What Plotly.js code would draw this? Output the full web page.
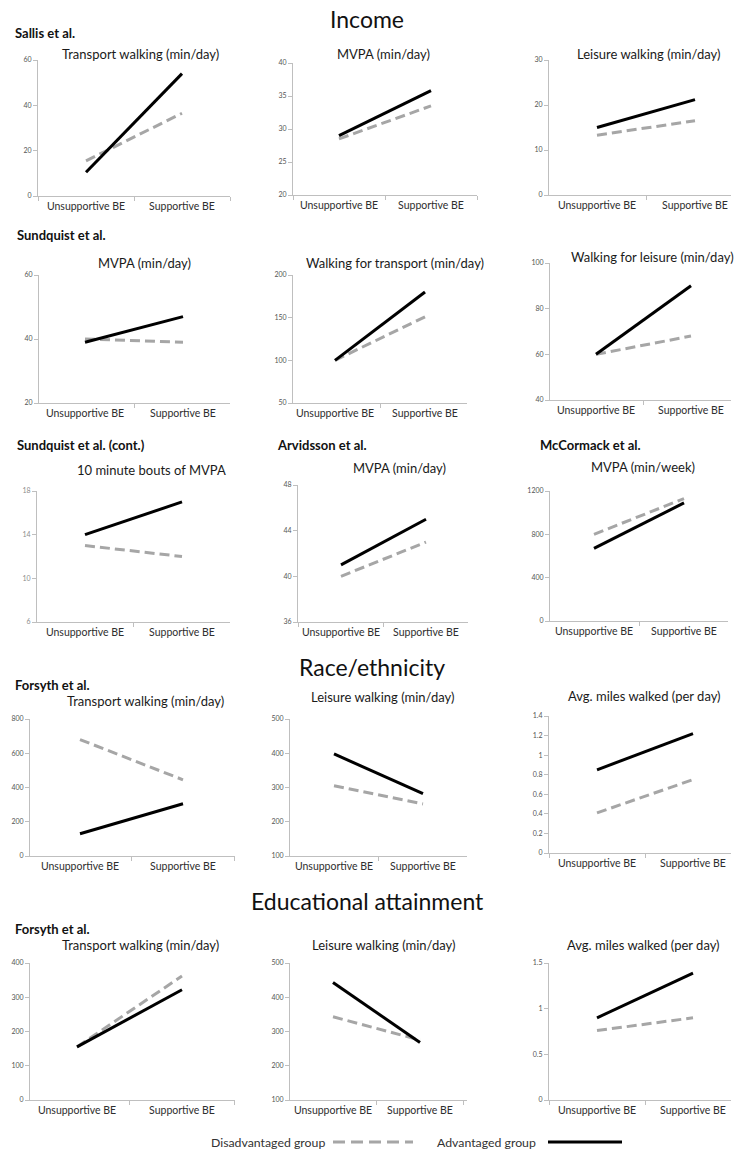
<!DOCTYPE html>
<html>
<head>
<meta charset="utf-8">
<script src="https://cdn.plot.ly/plotly-3.0.1.min.js"></script>
<style>
  html, body { margin: 0; padding: 0; background: #fff; }
  #chart { width: 734px; height: 1155px; }
</style>
</head>
<body>
<div id="chart"></div>
<script>
// ---------- DATA ----------
const categories = ["Unsupportive BE", "Supportive BE"];
const seriesNames = ["Disadvantaged group", "Advantaged group"];
const sectionTitles = ["Income", "Race/ethnicity", "Educational attainment"];
const studyLabels = ["Sallis et al.", "Sundquist et al.", "Sundquist et al. (cont.)", "Arvidsson et al.", "McCormack et al.", "Forsyth et al.", "Forsyth et al."];
const panelTitles = [
  "Transport walking (min/day)", "MVPA (min/day)", "Leisure walking (min/day)",
  "MVPA (min/day)", "Walking for transport (min/day)", "Walking for leisure (min/day)",
  "10 minute bouts of MVPA", "MVPA (min/day)", "MVPA (min/week)",
  "Transport walking (min/day)", "Leisure walking (min/day)", "Avg. miles walked (per day)",
  "Transport walking (min/day)", "Leisure walking (min/day)", "Avg. miles walked (per day)"
];
const disadvantaged = [
  [15.5, 36.5], [28.5, 33.5], [13.3, 16.5],
  [40, 39], [100, 151], [60, 68],
  [13, 12], [40, 43], [800, 1130],
  [680, 445], [305, 252], [0.41, 0.75],
  [155, 362], [343, 275], [0.76, 0.9]
];
const advantaged = [
  [10.5, 54], [29, 35.8], [15, 21.2],
  [39, 47], [100, 180], [60, 90],
  [14, 17], [41, 45], [670, 1090],
  [130, 305], [398, 282], [0.85, 1.22],
  [155, 322], [443, 268], [0.9, 1.39]
];
const yRanges = [
  [0, 60], [20, 40], [0, 30],
  [20, 60], [50, 200], [40, 100],
  [6, 18], [36, 48], [0, 1200],
  [0, 800], [100, 500], [0, 1.4],
  [0, 400], [100, 500], [0, 1.5]
];
const yDticks = [20, 5, 10, 20, 50, 20, 4, 4, 400, 200, 100, 0.2, 100, 100, 0.5];

// ---------- LAYOUT (pixel frames) ----------
const W = 734, H = 1155;
const px = x => x / W;
const py = y => 1 - y / H;
// [axisLeft, cat0, cat1, axisRight, top, bottom, titleX, titleY]
const frames = [
  [38, 86, 182, 230, 60, 196, 140, 54],
  [293, 339, 431, 477, 63, 195, 383, 54],
  [549, 597, 695, 731, 60, 195, 648, 54],
  [39, 85, 183, 230, 275, 403, 144, 263],
  [293, 335, 425, 467, 275, 403, 395, 263],
  [550, 596, 691, 731, 263, 400, 652, 257],
  [37, 85, 182, 230, 491, 622, 151, 470],
  [298, 341, 426, 468, 485, 622, 399, 468],
  [550, 594, 684, 728, 491, 621, 643, 467],
  [30, 80, 183, 235, 719, 856, 145, 701],
  [290, 334, 423, 467, 719, 856, 382, 697],
  [549, 597, 693, 731, 716, 853, 644, 696],
  [30, 77, 182, 235, 963, 1100, 140, 945],
  [290, 333, 420, 467, 963, 1100, 383, 945],
  [549, 597, 693, 731, 963, 1100, 643, 945]
];
const studyPos = [[13, 33], [15, 235], [15, 445], [275, 445], [538, 445], [13, 685], [13, 929]];
const sectionPos = [[367, 19], [372, 667], [367, 901]];

const FONT = "Lato, 'Open Sans', sans-serif";
const GREY = "#a6a6a6";
const AXIS = "#bfbfbf";

const traces = [];
const layout = {
  width: W, height: H,
  margin: {l: 0, r: 0, t: 0, b: 0},
  paper_bgcolor: "#fff", plot_bgcolor: "#fff",
  showlegend: false,
  font: {family: FONT, color: "#222"},
  annotations: [], shapes: []
};

frames.forEach((f, i) => {
  const [L, c0, c1, R, T, B, tx, ty] = f;
  const sfx = i === 0 ? "" : String(i + 1);
  const span = c1 - c0;
  layout["xaxis" + sfx] = {
    domain: [px(L), px(R)],
    type: "category",
    categoryorder: "array", categoryarray: categories,
    range: [(L - c0) / span, (R - c0) / span],
    anchor: "y" + sfx,
    showline: true, linecolor: AXIS, linewidth: 1,
    ticks: "outside", ticklen: 4, tickcolor: AXIS, tickson: "boundaries",
    tickangle: 0,
    showgrid: false, zeroline: false, fixedrange: true,
    tickfont: {family: FONT, size: 10.5, color: "#2e2e2e"}
  };
  layout["yaxis" + sfx] = {
    domain: [py(B), py(T)],
    range: yRanges[i],
    tick0: yRanges[i][0], dtick: yDticks[i],
    anchor: "x" + sfx,
    showline: true, linecolor: AXIS, linewidth: 1,
    ticks: "outside", ticklen: 4, tickcolor: AXIS,
    showgrid: false, zeroline: false, fixedrange: true,
    tickfont: {family: FONT, size: 7, color: i === 6 ? "#8c8c8c" : "#555"}
  };
  traces.push({
    type: "scatter", mode: "lines", name: seriesNames[0],
    x: categories, y: disadvantaged[i],
    xaxis: "x" + sfx, yaxis: "y" + sfx,
    line: {color: GREY, width: 3, dash: "10px,5px"},
    hoverinfo: "skip", cliponaxis: false
  });
  traces.push({
    type: "scatter", mode: "lines", name: seriesNames[1],
    x: categories, y: advantaged[i],
    xaxis: "x" + sfx, yaxis: "y" + sfx,
    line: {color: "#000", width: 3},
    hoverinfo: "skip", cliponaxis: false
  });
  layout.annotations.push({
    xref: "paper", yref: "paper", x: px(tx), y: py(ty),
    xanchor: "center", yanchor: "middle", showarrow: false,
    text: panelTitles[i],
    font: {family: FONT, size: 13, color: "#1a1a1a"}
  });
});

studyLabels.forEach((s, i) => {
  layout.annotations.push({
    xref: "paper", yref: "paper", x: px(studyPos[i][0]), y: py(studyPos[i][1]),
    xanchor: "left", yanchor: "middle", showarrow: false,
    text: "<b>" + s + "</b>",
    font: {family: FONT, size: 13, color: "#111"}
  });
});

sectionTitles.forEach((s, i) => {
  layout.annotations.push({
    xref: "paper", yref: "paper", x: px(sectionPos[i][0]), y: py(sectionPos[i][1]),
    xanchor: "center", yanchor: "middle", showarrow: false,
    text: s,
    font: {family: FONT, size: 23, color: "#111"}
  });
});

// legend (text followed by line sample)
const legY = 1142;
layout.annotations.push({
  xref: "paper", yref: "paper", x: px(327), y: py(legY),
  xanchor: "right", yanchor: "middle", showarrow: false,
  text: seriesNames[0], font: {family: FONT, size: 12.3, color: "#333"}
});
layout.annotations.push({
  xref: "paper", yref: "paper", x: px(538), y: py(legY),
  xanchor: "right", yanchor: "middle", showarrow: false,
  text: seriesNames[1], font: {family: FONT, size: 12.3, color: "#333"}
});
layout.shapes.push({
  type: "line", xref: "paper", yref: "paper",
  x0: px(333), x1: px(413), y0: py(legY), y1: py(legY),
  line: {color: GREY, width: 3, dash: "12px,6px"}
});
layout.shapes.push({
  type: "line", xref: "paper", yref: "paper",
  x0: px(548), x1: px(622), y0: py(legY), y1: py(legY),
  line: {color: "#000", width: 3}
});

Plotly.newPlot("chart", traces, layout, {displayModeBar: false, staticPlot: true});
</script>
</body>
</html>
